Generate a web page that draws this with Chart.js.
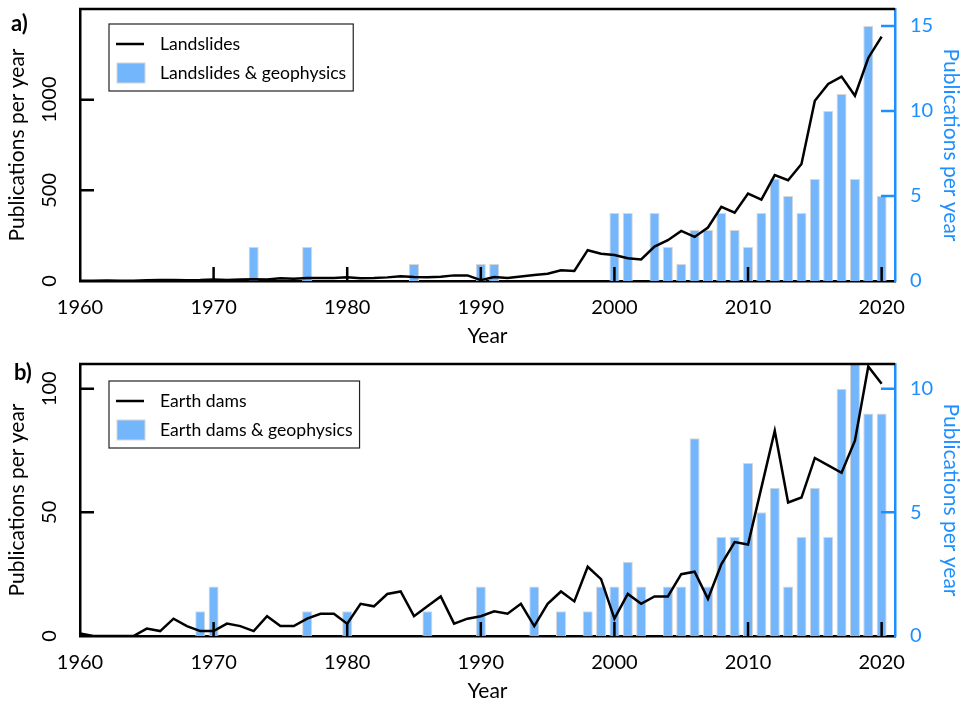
<!DOCTYPE html>
<html>
<head>
<meta charset="utf-8">
<title>Publications per year</title>
<script src="https://cdn.jsdelivr.net/npm/chart.js@4.4.1/dist/chart.umd.min.js"></script>
<style>
    html, body { margin: 0; padding: 0; background: #fff; }
    .figure { position: relative; width: 961px; height: 709px; font-family: Lato, sans-serif; }
    .panel { position: absolute; left: 0; }
    #landslidesChart { top: 0; }
    #damsChart { top: 354px; }
    .panel-label { position: absolute; font-weight: bold; font-size: 22px; line-height: 1; color: #000; }
</style>
</head>
<body>
<div class="figure">
    <canvas id="landslidesChart" class="panel" width="961" height="354"></canvas>
    <canvas id="damsChart" class="panel" width="961" height="355"></canvas>
    <div class="panel-label" style="left:11px; top:12px;">a)</div>
    <div class="panel-label" style="left:14px; top:361px;">b)</div>
</div>
<script>
const years = [
    1960, 1961, 1962, 1963, 1964, 1965, 1966, 1967, 1968, 1969,
    1970, 1971, 1972, 1973, 1974, 1975, 1976, 1977, 1978, 1979,
    1980, 1981, 1982, 1983, 1984, 1985, 1986, 1987, 1988, 1989,
    1990, 1991, 1992, 1993, 1994, 1995, 1996, 1997, 1998, 1999,
    2000, 2001, 2002, 2003, 2004, 2005, 2006, 2007, 2008, 2009,
    2010, 2011, 2012, 2013, 2014, 2015, 2016, 2017, 2018, 2019,
    2020
];

const landslides = [
    2, 1, 3, 2, 2, 4, 6, 5, 4, 5,
    8, 6, 8, 10, 8, 15, 12, 16, 16, 17,
    20, 15, 16, 20, 26, 22, 21, 24, 31, 31,
    5, 22, 17, 25, 33, 40, 59, 55, 170, 150,
    143, 125, 119, 190, 225, 276, 243, 295, 409, 377,
    482, 449, 584, 556, 645, 994, 1087, 1127, 1022, 1230,
    1348
];

const landslidesGeo = [
    0, 0, 0, 0, 0, 0, 0, 0, 0, 0,
    0, 0, 0, 2, 0, 0, 0, 2, 0, 0,
    0, 0, 0, 0, 0, 1, 0, 0, 0, 0,
    1, 1, 0, 0, 0, 0, 0, 0, 0, 0,
    4, 4, 0, 4, 2, 1, 3, 3, 4, 3,
    2, 4, 6, 5, 4, 6, 10, 11, 6, 15,
    5
];

const earthDams = [
    1, 0, 0, 0, 0, 3, 2, 7, 4, 2,
    2, 5, 4, 2, 8, 4, 4, 7, 9, 9,
    5, 13, 12, 17, 18, 8, 12, 16, 5, 7,
    8, 10, 9, 13, 4, 13, 18, 14, 28, 23,
    7, 17, 13, 16, 16, 25, 26, 15, 29, 38,
    37, 60, 83, 54, 56, 72, 69, 66, 79, 109,
    102
];

const earthDamsGeo = [
    0, 0, 0, 0, 0, 0, 0, 0, 0, 1,
    2, 0, 0, 0, 0, 0, 0, 1, 0, 0,
    1, 0, 0, 0, 0, 0, 1, 0, 0, 0,
    2, 0, 0, 0, 2, 0, 1, 0, 1, 2,
    2, 3, 2, 0, 2, 2, 8, 2, 4, 4,
    7, 5, 6, 2, 4, 6, 4, 10, 11, 9,
    9
];

const yearTicks = [1960, 1970, 1980, 1990, 2000, 2010, 2020];
const landslidesTicks = [0, 500, 1000];
const landslidesGeoTicks = [0, 5, 10, 15];
const damsTicks = [0, 50, 100];
const damsGeoTicks = [0, 5, 10];

const BAR_COLOR = '#74b6fc';
const BAR_EDGE = '#d6d6d6';
const AXIS_BLUE = '#1e8fff';
const TICK_FONT = 20;
const TITLE_FONT = 21;

Chart.defaults.font.family = 'Lato, sans-serif';

// inward tick marks + top frame line
const frameTicks = {
    id: 'frameTicks',
    afterDatasetsDraw(chart) {
        const { ctx, chartArea: area, scales } = chart;
        const len = 14;
        ctx.save();
        ctx.lineWidth = 2.5;
        ctx.strokeStyle = '#000';
        ctx.beginPath();
        ctx.moveTo(area.left - 1, area.top);
        ctx.lineTo(area.right, area.top);
        ctx.stroke();

        ctx.beginPath();
        scales.x.ticks.forEach(t => {
            const px = scales.x.getPixelForValue(t.value);
            if (px <= area.left + 2) return;
            ctx.moveTo(px, area.bottom);
            ctx.lineTo(px, area.bottom - len);
        });
        scales.y.ticks.forEach(t => {
            if (t.value === 0) return;
            const py = scales.y.getPixelForValue(t.value);
            ctx.moveTo(area.left, py);
            ctx.lineTo(area.left + len, py);
        });
        ctx.stroke();

        ctx.strokeStyle = AXIS_BLUE;
        ctx.beginPath();
        scales.y1.ticks.forEach(t => {
            if (t.value === 0) return;
            const py = scales.y1.getPixelForValue(t.value);
            ctx.moveTo(area.right, py);
            ctx.lineTo(area.right - len, py);
        });
        ctx.stroke();
        ctx.restore();
    }
};

// boxed legend in the upper left corner of the plot
const boxLegend = {
    id: 'boxLegend',
    afterDraw(chart, args, opts) {
        const { ctx, chartArea: area } = chart;
        const sets = chart.data.datasets;
        ctx.save();
        ctx.font = '17.6px Lato, sans-serif';
        const textW = Math.max(...sets.map(d => ctx.measureText(d.label).width));
        const x0 = area.left + opts.left;
        const y0 = area.top + opts.top;
        const w = 51 + textW + 7;
        const h = 67;

        ctx.fillStyle = '#fff';
        ctx.fillRect(x0, y0, w, h);
        ctx.lineWidth = 1.2;
        ctx.strokeStyle = '#222';
        ctx.strokeRect(x0, y0, w, h);

        sets.forEach((d, i) => {
            const cy = y0 + 20 + i * 29;
            if (d.type === 'line') {
                ctx.strokeStyle = d.borderColor;
                ctx.lineWidth = 2.5;
                ctx.beginPath();
                ctx.moveTo(x0 + 7, cy);
                ctx.lineTo(x0 + 35, cy);
                ctx.stroke();
            } else {
                ctx.fillStyle = d.backgroundColor;
                ctx.fillRect(x0 + 8, cy - 10, 28, 20);
                ctx.strokeStyle = d.borderColor;
                ctx.lineWidth = 1;
                ctx.strokeRect(x0 + 8, cy - 10, 28, 20);
            }
            ctx.fillStyle = '#000';
            ctx.textBaseline = 'middle';
            ctx.textAlign = 'left';
            ctx.fillText(d.label, x0 + 51, cy);
        });
        ctx.restore();
    }
};

document.addEventListener('DOMContentLoaded', () => {
    initPanel('landslidesChart', {
        lineLabel: 'Landslides',
        barLabel: 'Landslides & geophysics',
        lineValues: landslides,
        barValues: landslidesGeo,
        leftMax: 1500,
        rightMax: 16,
        leftTicks: landslidesTicks,
        rightTicks: landslidesGeoTicks,
        padTop: 9,
        leftTickPad: 7,
        legendTop: 15
    });
    initPanel('damsChart', {
        lineLabel: 'Earth dams',
        barLabel: 'Earth dams & geophysics',
        lineValues: earthDams,
        barValues: earthDamsGeo,
        leftMax: 110,
        rightMax: 11,
        leftTicks: damsTicks,
        rightTicks: damsGeoTicks,
        padTop: 10,
        leftTickPad: 13,
        legendTop: 17
    });
});

function initPanel(canvasId, cfg) {
    const ctx = document.getElementById(canvasId)?.getContext('2d');
    if (!ctx) return;

    new Chart(ctx, {
        type: 'bar',
        data: getPanelData(cfg),
        options: getPanelOptions(cfg),
        plugins: [frameTicks, boxLegend]
    });
}

function getPanelData(cfg) {
    return {
        datasets: [
            {
                type: 'line',
                label: cfg.lineLabel,
                data: years.map((yr, i) => ({ x: yr, y: cfg.lineValues[i] })),
                borderColor: '#000',
                borderWidth: 2.5,
                pointRadius: 0,
                tension: 0,
                yAxisID: 'y',
                order: 0
            },
            {
                type: 'bar',
                label: cfg.barLabel,
                data: years.map((yr, i) => ({ x: yr, y: cfg.barValues[i] || null })),
                backgroundColor: BAR_COLOR,
                borderColor: BAR_EDGE,
                borderWidth: 1,
                barPercentage: 0.75,
                categoryPercentage: 1,
                yAxisID: 'y1',
                order: 1
            }
        ]
    };
}

// keep the plot box fixed: no extra room for label overhang
function fixBox(size) {
    return s => {
        if (s.isHorizontal()) s.height = size;
        else s.width = size;
        s.paddingTop = 0;
        s.paddingBottom = 0;
        s.paddingLeft = 0;
        s.paddingRight = 0;
    };
}

function getPanelOptions(cfg) {
    return {
        responsive: false,
        animation: false,
        events: [],
        layout: { padding: { top: cfg.padTop, left: 0, right: 0, bottom: 0 } },
        plugins: {
            legend: { display: false },
            tooltip: { enabled: false },
            boxLegend: { left: 29, top: cfg.legendTop }
        },
        scales: {
            x: {
                type: 'linear',
                min: 1960,
                max: 2021,
                offset: false,
                afterBuildTicks: s => { s.ticks = yearTicks.map(v => ({ value: v })); },
                afterFit: fixBox(73),
                grid: { display: false, drawTicks: false, offset: false },
                border: { display: true, color: '#000', width: 2.5 },
                ticks: {
                    color: '#000',
                    padding: 15,
                    maxRotation: 0,
                    autoSkip: false,
                    font: { size: TICK_FONT },
                    callback: v => String(v)
                },
                title: {
                    display: true,
                    text: 'Year',
                    color: '#000',
                    font: { size: TITLE_FONT, lineHeight: 1 },
                    padding: { top: 0, bottom: 7 }
                }
            },
            y: {
                position: 'left',
                min: 0,
                max: cfg.leftMax,
                afterBuildTicks: s => { s.ticks = cfg.leftTicks.map(v => ({ value: v })); },
                afterFit: fixBox(80),
                grid: { display: false, drawTicks: false },
                border: { display: true, color: '#000', width: 2.5 },
                ticks: {
                    color: '#000',
                    minRotation: 90,
                    maxRotation: 90,
                    crossAlign: 'center',
                    padding: cfg.leftTickPad,
                    font: { size: TICK_FONT },
                    callback: v => String(v)
                },
                title: {
                    display: true,
                    text: 'Publications per year',
                    color: '#000',
                    font: { size: TITLE_FONT, lineHeight: 1 },
                    padding: { top: 7, bottom: 0 }
                }
            },
            y1: {
                position: 'right',
                min: 0,
                max: cfg.rightMax,
                afterBuildTicks: s => { s.ticks = cfg.rightTicks.map(v => ({ value: v })); },
                afterFit: fixBox(66),
                grid: { display: false, drawTicks: false },
                border: { display: true, color: AXIS_BLUE, width: 2.5 },
                ticks: {
                    color: AXIS_BLUE,
                    padding: 15,
                    font: { size: TICK_FONT },
                    callback: v => String(v)
                },
                title: {
                    display: true,
                    text: 'Publications per year',
                    color: AXIS_BLUE,
                    font: { size: TITLE_FONT, lineHeight: 1 },
                    padding: { top: 0, bottom: 0 }
                }
            }
        }
    };
}
</script>
</body>
</html>
